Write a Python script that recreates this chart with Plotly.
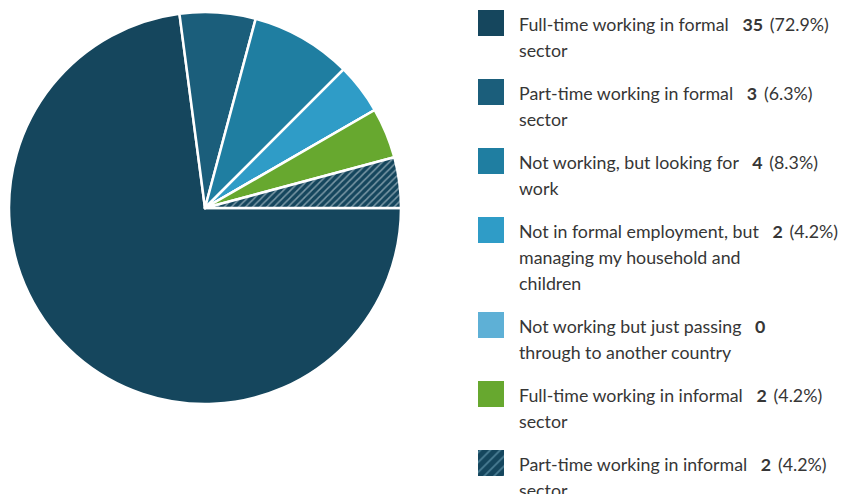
import plotly.graph_objects as go

# Survey responses: current employment situation
labels = [
    "Full-time working in formal<br>sector",
    "Part-time working in formal<br>sector",
    "Not working, but looking for<br>work",
    "Not in formal employment, but<br>managing my household and<br>children",
    "Not working but just passing<br>through to another country",
    "Full-time working in informal<br>sector",
    "Part-time working in informal<br>sector",
]
counts = [35, 3, 4, 2, 0, 2, 2]
colors = ["#15465d", "#1b5e7b", "#1f7ea1", "#2f9cc7", "#5eb0d6", "#67a82f", "#15465d"]
patterns = ["", "", "", "", "", "", "/"]

W, H = 842, 494
total = sum(counts)

fig = go.Figure()

fig.add_trace(go.Pie(
    labels=[l.replace("<br>", " ") for l in labels],
    values=counts,
    sort=False,
    direction="clockwise",
    rotation=90,
    textinfo="none",
    hoverinfo="label+value+percent",
    marker=dict(
        colors=colors,
        line=dict(color="white", width=2.5),
        pattern=dict(shape=patterns, fgcolor="#dfe9ee", bgcolor=colors,
                     fillmode="overlay", size=5, solidity=0.3),
    ),
    domain=dict(x=[9 / W, 401 / W], y=[(H - 208 - 196) / H, (H - 208 + 196) / H]),
    showlegend=False,
))


def pct_text(c):
    # one decimal, halves rounded up
    tenths = int(c * 1000 / total + 0.5)
    return f"({tenths // 10}.{tenths % 10}%)"


# Custom legend drawn on a hidden pixel-scaled axis
sw_x0, sw_x1, sw = 478, 504, 26
line_h = 26
gap = 17
text_x = 517
center = 23
annotations = []
for lab, cnt, col, pat in zip(labels, counts, colors, patterns):
    lines = lab.split("<br>")
    y0, y1 = center - sw / 2, center + sw / 2
    fig.add_trace(go.Scatter(
        x=[sw_x0, sw_x1, sw_x1, sw_x0, sw_x0],
        y=[y0, y0, y1, y1, y0],
        mode="lines", fill="toself",
        fillcolor=col,
        fillpattern=dict(shape=pat, fgcolor="#7fb3c9", bgcolor=col, size=7, solidity=0.25) if pat else None,
        line=dict(width=0, color=col),
        hoverinfo="skip", showlegend=False,
    ))
    pct = "\u00a0\u2009" + pct_text(cnt) if cnt > 0 else ""
    first = f"{lines[0]}\u00a0\u00a0\u00a0<b>{cnt}</b>{pct}"
    for i, txt in enumerate([first] + lines[1:]):
        annotations.append(dict(
            x=text_x, y=center + 1 + i * line_h, xref="x", yref="y",
            text=txt, showarrow=False, xanchor="left", yanchor="middle",
            font=dict(family="Lato", size=17.8, color="#363636"),
        ))
    center += line_h * len(lines) + gap

fig.update_layout(
    width=W, height=H,
    margin=dict(l=0, r=0, t=0, b=0, pad=0),
    paper_bgcolor="white", plot_bgcolor="white",
    font=dict(family="Lato", size=18, color="#363636"),
    xaxis=dict(range=[0, W], visible=False, fixedrange=True, domain=[0, 1]),
    yaxis=dict(range=[H, 0], visible=False, fixedrange=True, domain=[0, 1]),
    annotations=annotations,
)

fig.write_html("out.html")
